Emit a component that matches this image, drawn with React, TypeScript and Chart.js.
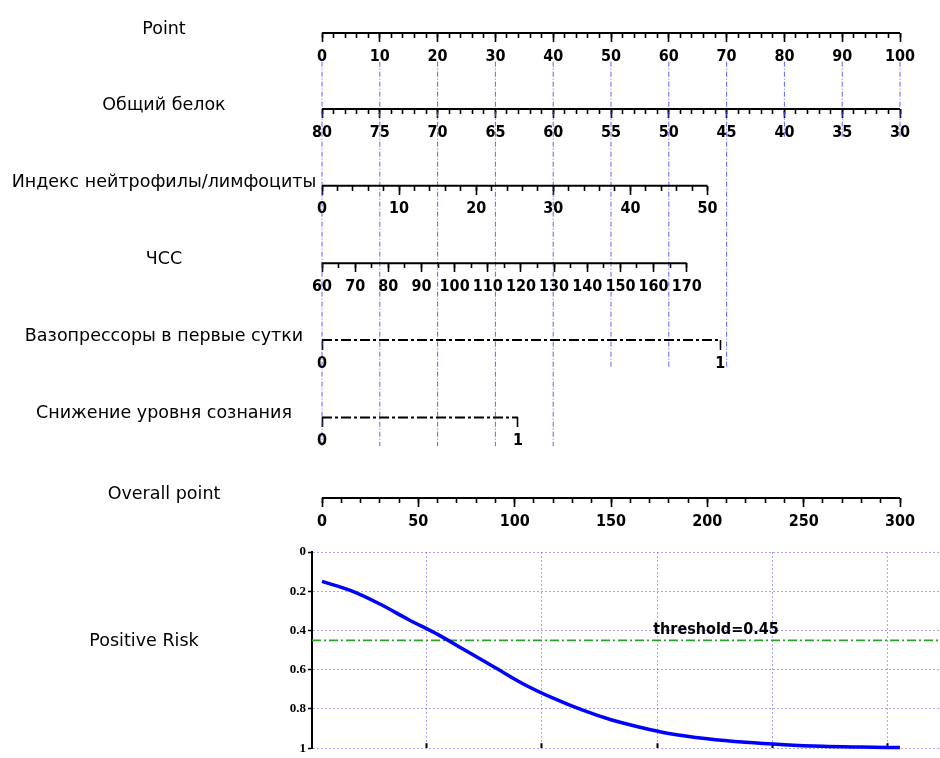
import React, { useEffect, useRef } from 'react';
import { Chart, registerables } from 'chart.js';

Chart.register(...registerables);
Chart.defaults.font.family = '"DejaVu Sans", sans-serif';

// ---------------- data ----------------
const rowNames = [
  'Point',
  'Общий белок',
  'Индекс нейтрофилы/лимфоциты',
  'ЧСС',
  'Вазопрессоры в первые сутки',
  'Снижение уровня сознания',
  'Overall point',
];

const pointTicks = [0, 10, 20, 30, 40, 50, 60, 70, 80, 90, 100];
const proteinTicks = [80, 75, 70, 65, 60, 55, 50, 45, 40, 35, 30];
const nlrTicks = [0, 10, 20, 30, 40, 50];
const hrTicks = [60, 70, 80, 90, 100, 110, 120, 130, 140, 150, 160, 170];
const vasopressorTicks = [0, 1];
const consciousnessTicks = [0, 1];
const overallTicks = [0, 50, 100, 150, 200, 250, 300];

// points (0–100 "Point" scale) reached at the first / last value of each variable
const pointPointRange = [0, 100];
const proteinPointRange = [0, 100];
const nlrPointRange = [0, 66.7];
const hrPointRange = [0, 63.1];
const vasopressorPointRange = [0, 68.9];
const consciousnessPointRange = [0, 33.9];
const overallPointRange = [0, 100];

// minor tick step per variable (0 = none)
const minorSteps = [2, 1, 2, 5, 0, 0, 10];

// blue reference lines (Point values) and the last row each one reaches
const refLinePoints = [0, 10, 20, 30, 40, 50, 60, 70, 80, 90, 100];
const refLineLastRow = [5, 5, 5, 5, 5, 4, 4, 4, 1, 1, 1];

// Positive-risk curve vs overall points
const riskPoints = [0, 15, 30, 45, 60, 75, 90, 105, 120, 135, 150, 165, 180, 200, 220, 240, 260, 280, 300];
const riskValues = [0.15, 0.197, 0.265, 0.345, 0.42, 0.505, 0.59, 0.675, 0.745, 0.805, 0.855, 0.893, 0.925, 0.952, 0.97, 0.982, 0.99, 0.994, 0.997];
const riskYTicks = [0, 0.2, 0.4, 0.6, 0.8, 1];
const riskGridPoints = [54.3, 114, 174, 234, 293.6];
const threshold = 0.45;

// ---------------- layout / style ----------------
const ROW_Y = [0, 0.98, 1.97, 2.97, 3.96, 4.96, 6];
const NAME_X = 164;
const NAME_DY = 1;
const REF_START = 0.37;
const REF_BELOW = 0.37;
const RISK_X_MIN = -5.2;
const RISK_X_MAX = 320.8;
const COND = '"DejaVu Sans Condensed", "DejaVu Sans", sans-serif';
const TICK_FONT = { family: COND, size: 16, weight: 'bold' as const };
const NAME_FONT = '17.5px "DejaVu Sans", sans-serif';

const ROWS = [
  { id: 'point', ticks: pointTicks, pts: pointPointRange, dashed: false },
  { id: 'protein', ticks: proteinTicks, pts: proteinPointRange, dashed: false },
  { id: 'nlr', ticks: nlrTicks, pts: nlrPointRange, dashed: false },
  { id: 'hr', ticks: hrTicks, pts: hrPointRange, dashed: false },
  { id: 'vaso', ticks: vasopressorTicks, pts: vasopressorPointRange, dashed: true },
  { id: 'consc', ticks: consciousnessTicks, pts: consciousnessPointRange, dashed: true },
  { id: 'overall', ticks: overallTicks, pts: overallPointRange, dashed: false },
];

function scaleRange(ticks: number[], pts: number[]) {
  const lo = ticks[0];
  const hi = ticks[ticks.length - 1];
  const k = (hi - lo) / (pts[1] - pts[0]);
  const v0 = lo + (0 - pts[0]) * k;
  const v100 = lo + (100 - pts[0]) * k;
  return { min: Math.min(v0, v100), max: Math.max(v0, v100), reverse: v100 < v0 };
}

function stepValues(a: number, b: number, step: number) {
  const out: number[] = [];
  const lo = Math.min(a, b);
  const hi = Math.max(a, b);
  for (let v = lo; v <= hi + 1e-9; v += step) out.push(+v.toFixed(6));
  return out;
}

function topConfig(): any {
  const scales: any = {
    y: { type: 'linear', display: false, min: 0, max: 6, reverse: true },
  };
  const datasets: any[] = [];
  ROWS.forEach((r, i) => {
    const rg = scaleRange(r.ticks, r.pts);
    const base = {
      type: 'linear',
      axis: 'x',
      position: { y: ROW_Y[i] },
      min: rg.min,
      max: rg.max,
      reverse: rg.reverse,
      bounds: 'data',
      border: { display: false },
    };
    scales[r.id + 'Maj'] = {
      ...base,
      grid: {
        display: true,
        drawOnChartArea: false,
        drawTicks: true,
        tickLength: r.dashed ? 10 : 9,
        tickWidth: 1.6,
        tickColor: '#000',
        color: '#000',
      },
      ticks: {
        display: true,
        autoSkip: false,
        maxRotation: 0,
        minRotation: 0,
        padding: r.dashed ? 4 : 5,
        color: '#000',
        font: TICK_FONT,
        z: 1,
        callback: (v: any) => String(v),
      },
      afterBuildTicks: (s: any) => {
        s.ticks = r.ticks.map((v) => ({ value: v }));
      },
    };
    if (minorSteps[i]) {
      scales[r.id + 'Min'] = {
        ...base,
        grid: {
          display: true,
          drawOnChartArea: false,
          drawTicks: true,
          tickLength: 5,
          tickWidth: 1.6,
          tickColor: '#000',
          color: '#000',
        },
        ticks: { display: false },
        afterBuildTicks: (s: any) => {
          s.ticks = stepValues(r.ticks[0], r.ticks[r.ticks.length - 1], minorSteps[i]).map((v) => ({ value: v }));
        },
      };
    }
    datasets.push({
      data: [
        { x: r.ticks[0], y: ROW_Y[i] },
        { x: r.ticks[r.ticks.length - 1], y: ROW_Y[i] },
      ],
      xAxisID: r.id + 'Maj',
      yAxisID: 'y',
      borderColor: '#000',
      borderWidth: 2,
      borderDash: r.dashed ? [10, 3, 3, 3] : [],
      borderCapStyle: 'butt',
      pointRadius: 0,
      clip: false,
    });
  });
  refLinePoints.forEach((p, k) => {
    datasets.push({
      data: [
        { x: p, y: REF_START },
        { x: p, y: ROW_Y[refLineLastRow[k]] + REF_BELOW },
      ],
      xAxisID: 'pointMaj',
      yAxisID: 'y',
      borderColor: 'rgba(70,70,255,0.85)',
      borderWidth: 1,
      borderDash: [5, 2, 1, 2],
      pointRadius: 0,
      clip: false,
    });
  });

  const namePlugin = {
    id: 'rowNames',
    afterDraw(chart: any) {
      const ctx = chart.ctx;
      const y = chart.scales.y;
      ctx.save();
      ctx.font = NAME_FONT;
      ctx.fillStyle = '#000';
      ctx.textAlign = 'center';
      ctx.textBaseline = 'alphabetic';
      rowNames.forEach((n, i) => ctx.fillText(n, NAME_X, y.getPixelForValue(ROW_Y[i]) + NAME_DY));
      ctx.restore();
    },
  };

  return {
    type: 'line',
    data: { datasets },
    options: {
      responsive: false,
      animation: false,
      devicePixelRatio: 1,
      layout: { padding: { left: 322, right: 40, top: 33, bottom: 42 } },
      plugins: { legend: { display: false }, tooltip: { enabled: false } },
      events: [],
      scales,
    },
    plugins: [namePlugin],
  };
}

function riskConfig(): any {
  const labelPlugin = {
    id: 'riskLabels',
    afterDraw(chart: any) {
      const ctx = chart.ctx;
      const xs = chart.scales.x;
      const ys = chart.scales.y;
      ctx.save();
      ctx.fillStyle = '#000';
      ctx.textAlign = 'center';
      ctx.textBaseline = 'alphabetic';
      ctx.font = 'bold 16px ' + COND;
      ctx.fillText('threshold=' + threshold, xs.getPixelForValue(204.5), ys.getPixelForValue(0.42));
      ctx.font = NAME_FONT;
      ctx.fillText('Positive Risk', 144, ys.getPixelForValue(0.479));
      ctx.restore();
    },
  };
  return {
    type: 'line',
    data: {
      datasets: [
        {
          data: riskPoints.map((x, i) => ({ x, y: riskValues[i] })),
          borderColor: '#0000ff',
          borderWidth: 3.5,
          cubicInterpolationMode: 'monotone',
          pointRadius: 0,
          clip: false,
        },
        {
          data: [
            { x: RISK_X_MIN, y: threshold },
            { x: RISK_X_MAX, y: threshold },
          ],
          borderColor: '#2ca02c',
          borderWidth: 1.8,
          borderDash: [9, 3, 2, 3],
          pointRadius: 0,
        },
      ],
    },
    options: {
      responsive: false,
      animation: false,
      devicePixelRatio: 1,
      events: [],
      layout: { padding: { left: 272, right: 0, top: 12, bottom: 5 } },
      plugins: { legend: { display: false }, tooltip: { enabled: false } },
      scales: {
        x: {
          type: 'linear',
          position: 'bottom',
          min: RISK_X_MIN,
          max: RISK_X_MAX,
          bounds: 'data',
          border: { display: false, dash: [2, 2] },
          grid: {
            color: 'rgba(60,60,255,0.45)',
            lineWidth: 1,
            tickLength: -5,
            tickColor: '#000',
            tickWidth: 2,
            tickBorderDash: [],
          },
          ticks: { display: false },
          afterBuildTicks: (s: any) => {
            s.ticks = riskGridPoints.map((v) => ({ value: v }));
          },
          afterFit: (s: any) => {
            s.height = 0;
          },
        },
        y: {
          type: 'linear',
          position: 'left',
          min: 0,
          max: 1,
          reverse: true,
          bounds: 'data',
          border: { display: true, color: '#000', width: 2, dash: [2, 2] },
          grid: {
            color: 'rgba(60,60,255,0.45)',
            lineWidth: 1,
            tickLength: 4,
            tickColor: '#000',
            tickWidth: 1.5,
            tickBorderDash: [],
          },
          ticks: {
            color: '#000',
            padding: 2,
            font: { family: '"Liberation Serif", serif', size: 13, weight: 'bold' },
            callback: (v: any) => String(v),
          },
          afterBuildTicks: (s: any) => {
            s.ticks = riskYTicks.map((v) => ({ value: v }));
          },
          afterFit: (s: any) => {
            s.width = 40;
          },
        },
      },
    },
    plugins: [labelPlugin],
  };
}

export default function App() {
  const topRef = useRef<HTMLCanvasElement>(null);
  const botRef = useRef<HTMLCanvasElement>(null);
  useEffect(() => {
    document.body.style.margin = '0';
    const c1 = new Chart(topRef.current as HTMLCanvasElement, topConfig());
    const c2 = new Chart(botRef.current as HTMLCanvasElement, riskConfig());
    return () => {
      c1.destroy();
      c2.destroy();
    };
  }, []);
  return (
    <div style={{ width: 940, height: 758, background: '#fff' }}>
      <canvas ref={topRef} width={940} height={540} style={{ display: 'block' }} />
      <canvas ref={botRef} width={940} height={218} style={{ display: 'block' }} />
    </div>
  );
}
